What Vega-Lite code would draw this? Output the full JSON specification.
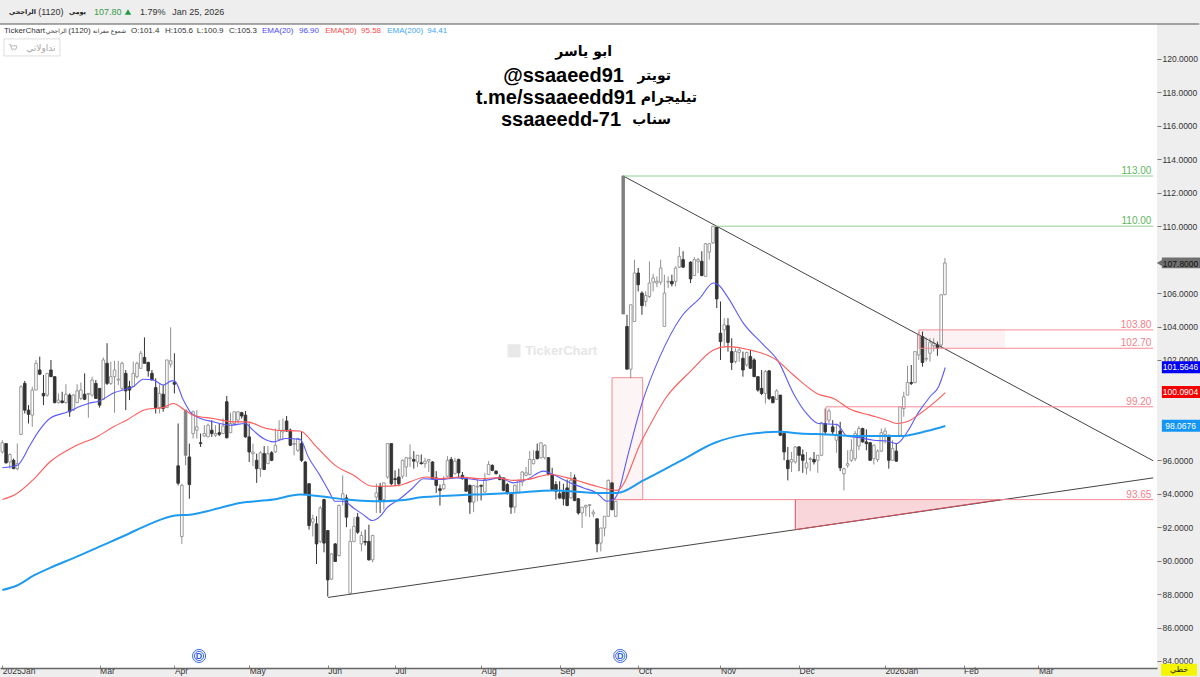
{"$schema":"https://vega.github.io/schema/vega-lite/v6.json","width":1157,"height":644,"autosize":{"type":"none"},"padding":{"left":0,"top":24,"right":43,"bottom":9},"background":"#eeeeee","view":{"fill":"#ffffff","stroke":null},
"config":{"font":"Liberation Sans"},
"datasets":{
"candles":[
{"s":0,"o":96.5,"h":97.2,"l":96.4,"c":97.05,"d":"u"},{"s":1,"o":97,"h":97,"l":95.8,"c":95.85,"d":"n"},{"s":2,"o":95.9,"h":96.4,"l":95.5,"c":96.35,"d":"u"},{"s":3,"o":96,"h":96.1,"l":95.5,"c":95.5,"d":"n"},{"s":4,"o":95.5,"h":97,"l":95.4,"c":95.8,"d":"u"},{"s":5,"o":97.55,"h":100.5,"l":97.5,"c":100.4,"d":"u"},{"s":6,"o":100.6,"h":100.75,"l":98.8,"c":99,"d":"n"},{"s":7,"o":99,"h":99.3,"l":98.2,"c":98.75,"d":"n"},{"s":8,"o":98.7,"h":100.4,"l":98,"c":100.2,"d":"u"},{"s":9,"o":100.2,"h":102,"l":100.2,"c":101.8,"d":"u"},
{"s":10,"o":101.4,"h":102.2,"l":101.1,"c":101.15,"d":"n"},{"s":11,"o":100,"h":101.1,"l":99.3,"c":99.85,"d":"n"},{"s":12,"o":99.9,"h":101.2,"l":99.8,"c":101.2,"d":"u"},{"s":13,"o":101.4,"h":102,"l":101,"c":101,"d":"n"},{"s":14,"o":101,"h":101,"l":99.4,"c":99.45,"d":"n"},{"s":15,"o":99.45,"h":100,"l":99.4,"c":99.6,"d":"u"},{"s":16,"o":99.55,"h":100.1,"l":99.4,"c":99.45,"d":"n"},{"s":17,"o":99.45,"h":100.55,"l":99.4,"c":99.95,"d":"u"},{"s":18,"o":99.9,"h":100,"l":98.6,"c":98.9,"d":"n"},{"s":19,"o":99,"h":99.95,"l":98.95,"c":99.9,"d":"u"},
{"s":20,"o":99.45,"h":100.55,"l":99.45,"c":100.15,"d":"u"},{"s":21,"o":99.7,"h":100.65,"l":99.6,"c":100.2,"d":"u"},{"s":22,"o":99.95,"h":101.2,"l":99.6,"c":99.65,"d":"n"},{"s":23,"o":99.95,"h":100,"l":98.55,"c":100,"d":"u"},{"s":24,"o":99.9,"h":101,"l":99.8,"c":100.8,"d":"u"},{"s":25,"o":100.6,"h":100.8,"l":99.7,"c":99.7,"d":"n"},{"s":26,"o":100.3,"h":100.3,"l":99.15,"c":99.3,"d":"n"},{"s":27,"o":99.65,"h":102.15,"l":99.6,"c":102,"d":"u"},{"s":28,"o":101.8,"h":103,"l":100.5,"c":100.6,"d":"n"},{"s":29,"o":100.6,"h":101.9,"l":100.5,"c":101,"d":"u"},
{"s":30,"o":101,"h":101.95,"l":98.85,"c":101.4,"d":"u"},{"s":31,"o":100.8,"h":101.95,"l":100.5,"c":100.85,"d":"u"},{"s":32,"o":100.3,"h":101.9,"l":100.2,"c":101.8,"d":"u"},{"s":33,"o":101.2,"h":101.4,"l":99,"c":100.15,"d":"n"},{"s":34,"o":100.4,"h":100.75,"l":99.6,"c":100.2,"d":"n"},{"s":35,"o":100.4,"h":101.9,"l":100.4,"c":101.2,"d":"u"},{"s":36,"o":101,"h":101.9,"l":100.9,"c":101.8,"d":"u"},{"s":37,"o":101.5,"h":102.55,"l":101.5,"c":102.4,"d":"u"},{"s":38,"o":102.15,"h":103.35,"l":101.8,"c":101.8,"d":"n"},{"s":39,"o":101.85,"h":101.9,"l":101,"c":101.35,"d":"n"},
{"s":40,"o":101.2,"h":101.4,"l":100.8,"c":100.8,"d":"n"},{"s":41,"o":100.35,"h":100.9,"l":98.8,"c":99.15,"d":"n"},{"s":42,"o":99.15,"h":100.55,"l":98.8,"c":100,"d":"u"},{"s":43,"o":99.95,"h":100.5,"l":98.9,"c":99.1,"d":"n"},{"s":44,"o":99.15,"h":102,"l":99.15,"c":102,"d":"u"},{"s":45,"o":101.75,"h":103.95,"l":101.55,"c":101.95,"d":"u"},{"s":46,"o":100.65,"h":102.4,"l":100,"c":100.55,"d":"n"},{"s":47,"o":95.67,"h":98.2,"l":94.5,"c":94.63,"d":"n"},{"s":48,"o":91.44,"h":94.6,"l":91,"c":94.5,"d":"u"},{"s":49,"o":96.3,"h":99,"l":95.7,"c":99,"d":"g"},
{"s":50,"o":96.2,"h":97,"l":93.7,"c":94.55,"d":"n"},{"s":51,"o":97.6,"h":98.98,"l":97.3,"c":98.9,"d":"u"},{"s":52,"o":97.8,"h":99,"l":97.3,"c":98,"d":"u"},{"s":53,"o":97.05,"h":97.6,"l":96.8,"c":97,"d":"n"},{"s":54,"o":97.45,"h":98.1,"l":97.4,"c":97.6,"d":"u"},{"s":55,"o":97.4,"h":98.2,"l":97.4,"c":98.1,"d":"u"},{"s":56,"o":97.8,"h":98.4,"l":97.4,"c":97.6,"d":"n"},{"s":57,"o":97.5,"h":98.1,"l":97.4,"c":97.6,"d":"u"},{"s":58,"o":97.65,"h":98.2,"l":97.45,"c":97.55,"d":"n"},{"s":59,"o":97.6,"h":98.5,"l":97.6,"c":98.05,"d":"u"},
{"s":60,"o":99.5,"h":99.85,"l":97.3,"c":97.35,"d":"n"},{"s":61,"o":97.65,"h":98.85,"l":97.65,"c":98.2,"d":"u"},{"s":62,"o":98.2,"h":98.9,"l":98.1,"c":98.9,"d":"u"},{"s":63,"o":98.4,"h":98.9,"l":98.2,"c":98.9,"d":"u"},{"s":64,"o":98.85,"h":98.9,"l":98.5,"c":98.65,"d":"n"},{"s":65,"o":98.7,"h":98.95,"l":97.35,"c":97.4,"d":"n"},{"s":66,"o":97.4,"h":98.2,"l":95.9,"c":96.5,"d":"n"},{"s":67,"o":96.4,"h":97,"l":95.65,"c":96.5,"d":"u"},{"s":68,"o":96,"h":96.4,"l":94.65,"c":95.5,"d":"n"},{"s":69,"o":95.5,"h":96.55,"l":95,"c":96.45,"d":"u"},
{"s":70,"o":96.4,"h":96.85,"l":95.45,"c":95.45,"d":"n"},{"s":71,"o":95.8,"h":96.85,"l":95.8,"c":96.4,"d":"u"},{"s":72,"o":96.45,"h":96.55,"l":95.95,"c":96,"d":"n"},{"s":73,"o":96.5,"h":97.9,"l":96.45,"c":96.9,"d":"u"},{"s":74,"o":97.25,"h":98.4,"l":97.2,"c":97.8,"d":"u"},{"s":75,"o":97.7,"h":98.5,"l":97.2,"c":97.8,"d":"u"},{"s":76,"o":98.35,"h":98.65,"l":97.7,"c":97.75,"d":"n"},{"s":77,"o":97.8,"h":97.9,"l":96.85,"c":96.9,"d":"n"},{"s":78,"o":96.95,"h":97.3,"l":96.3,"c":97,"d":"u"},{"s":79,"o":96.6,"h":97.35,"l":96.5,"c":97.3,"d":"u"},
{"s":80,"o":97,"h":97.7,"l":95.9,"c":96,"d":"n"},{"s":81,"o":95.9,"h":95.95,"l":93.95,"c":94,"d":"n"},{"s":82,"o":94.6,"h":94.6,"l":91.85,"c":92.1,"d":"n"},{"s":83,"o":92.3,"h":92.75,"l":91.45,"c":92.5,"d":"u"},{"s":84,"o":92.2,"h":92.65,"l":89.8,"c":91,"d":"n"},{"s":85,"o":91.15,"h":93.25,"l":91.05,"c":93.15,"d":"u"},{"s":86,"o":93.65,"h":93.7,"l":90.5,"c":91.05,"d":"n"},{"s":87,"o":91.8,"h":91.8,"l":87.85,"c":88.85,"d":"n"},{"s":88,"o":88.9,"h":90.45,"l":88.85,"c":90.4,"d":"u"},{"s":89,"o":91,"h":91.05,"l":89.95,"c":89.95,"d":"n"},
{"s":90,"o":90.3,"h":93.35,"l":90.25,"c":93.3,"d":"u"},{"s":91,"o":93.65,"h":95.1,"l":93.3,"c":94,"d":"u"},{"s":92,"o":93.75,"h":93.95,"l":92,"c":92.6,"d":"n"},{"s":93,"o":88.05,"h":91.9,"l":88,"c":91.15,"d":"u"},{"s":94,"o":91.15,"h":92.6,"l":91.1,"c":92.05,"d":"u"},{"s":95,"o":92.6,"h":92.85,"l":91.6,"c":91.7,"d":"n"},{"s":96,"o":91,"h":91.75,"l":90.55,"c":91.5,"d":"u"},{"s":97,"o":91.15,"h":91.85,"l":90.9,"c":91.1,"d":"n"},{"s":98,"o":91.15,"h":92.15,"l":90,"c":90.05,"d":"n"},{"s":99,"o":90.05,"h":91.55,"l":89.9,"c":91.5,"d":"u"},
{"s":100,"o":93.8,"h":94.6,"l":92.85,"c":94.05,"d":"u"},{"s":101,"o":94.45,"h":94.65,"l":92.85,"c":93.6,"d":"n"},{"s":102,"o":93.65,"h":94.65,"l":93.05,"c":94.65,"d":"u"},{"s":103,"o":95,"h":97,"l":94.9,"c":97,"d":"u"},{"s":104,"o":97,"h":97,"l":94.5,"c":94.6,"d":"n"},{"s":105,"o":94.9,"h":95.4,"l":94.45,"c":94.85,"d":"n"},{"s":106,"o":95,"h":95.5,"l":94.45,"c":94.6,"d":"n"},{"s":107,"o":95.05,"h":96.05,"l":94.9,"c":96,"d":"u"},{"s":108,"o":95.6,"h":96.2,"l":95,"c":96.15,"d":"u"},{"s":109,"o":96.1,"h":96.95,"l":95.6,"c":96.15,"d":"u"},
{"s":110,"o":96.05,"h":96.55,"l":95.5,"c":95.95,"d":"n"},{"s":111,"o":95.9,"h":96.3,"l":95.6,"c":96.3,"d":"u"},{"s":112,"o":95.85,"h":96.35,"l":95.75,"c":95.8,"d":"n"},{"s":113,"o":95.8,"h":96.15,"l":95.55,"c":95.95,"d":"u"},{"s":114,"o":95.95,"h":96.05,"l":95.3,"c":96.05,"d":"u"},{"s":115,"o":95.9,"h":95.95,"l":94.85,"c":94.9,"d":"n"},{"s":116,"o":94.95,"h":95.35,"l":94.05,"c":94.5,"d":"n"},{"s":117,"o":94.3,"h":94.55,"l":93.3,"c":94.2,"d":"n"},{"s":118,"o":94.3,"h":95.05,"l":94.25,"c":94.55,"d":"u"},{"s":119,"o":95.05,"h":96.25,"l":95,"c":96,"d":"u"},
{"s":120,"o":96.05,"h":96.2,"l":94.95,"c":94.95,"d":"n"},{"s":121,"o":95.2,"h":96.15,"l":95.15,"c":95.95,"d":"u"},{"s":122,"o":96.05,"h":96.1,"l":94.95,"c":95.25,"d":"n"},{"s":123,"o":95.1,"h":95.3,"l":94.85,"c":94.9,"d":"n"},{"s":124,"o":94.9,"h":94.95,"l":94.15,"c":94.15,"d":"n"},{"s":125,"o":94.5,"h":94.55,"l":92.8,"c":93.5,"d":"n"},{"s":126,"o":93.5,"h":94.5,"l":92.9,"c":94.5,"d":"u"},{"s":127,"o":94.4,"h":94.85,"l":93.55,"c":94.45,"d":"u"},{"s":128,"o":94.5,"h":94.55,"l":93.6,"c":94.45,"d":"n"},{"s":129,"o":94.1,"h":95.25,"l":94.05,"c":94.85,"d":"u"},
{"s":130,"o":95.15,"h":95.95,"l":95.15,"c":95.75,"d":"u"},{"s":131,"o":95.7,"h":95.75,"l":95.35,"c":95.4,"d":"n"},{"s":132,"o":95.35,"h":95.4,"l":95.15,"c":95.2,"d":"n"},{"s":133,"o":95,"h":95.15,"l":94.8,"c":94.85,"d":"n"},{"s":134,"o":94.95,"h":94.95,"l":94.15,"c":94.2,"d":"n"},{"s":135,"o":94.55,"h":94.65,"l":93.95,"c":94.05,"d":"n"},{"s":136,"o":94,"h":94,"l":92.8,"c":93.2,"d":"n"},{"s":137,"o":93.2,"h":94.55,"l":92.85,"c":94.5,"d":"u"},{"s":138,"o":94.05,"h":94.85,"l":94.05,"c":94.8,"d":"u"},{"s":139,"o":94.7,"h":95.35,"l":94.45,"c":95.3,"d":"u"},
{"s":140,"o":95.1,"h":95.6,"l":95.05,"c":95.25,"d":"u"},{"s":141,"o":95.15,"h":96.55,"l":95.1,"c":96.05,"d":"u"},{"s":142,"o":95.8,"h":96.6,"l":95.75,"c":96.05,"d":"u"},{"s":143,"o":96.55,"h":97,"l":96.05,"c":96.1,"d":"n"},{"s":144,"o":96.15,"h":97.05,"l":96.1,"c":97.05,"d":"u"},{"s":145,"o":96.15,"h":96.95,"l":96.05,"c":96.9,"d":"u"},{"s":146,"o":96.15,"h":96.2,"l":95.1,"c":95.15,"d":"n"},{"s":147,"o":95.15,"h":95.55,"l":94.2,"c":94.25,"d":"n"},{"s":148,"o":94.55,"h":94.75,"l":93.65,"c":94.15,"d":"n"},{"s":149,"o":94,"h":94.75,"l":93.7,"c":93.75,"d":"n"},
{"s":150,"o":94.1,"h":94.6,"l":93.3,"c":93.7,"d":"n"},{"s":151,"o":94.35,"h":94.85,"l":93.25,"c":93.3,"d":"n"},{"s":152,"o":93.75,"h":95.3,"l":93.7,"c":94.8,"d":"u"},{"s":153,"o":94.95,"h":95.15,"l":93.55,"c":93.6,"d":"n"},{"s":154,"o":93.7,"h":93.75,"l":92.75,"c":92.85,"d":"n"},{"s":155,"o":92.85,"h":93.2,"l":91.95,"c":93.2,"d":"u"},{"s":156,"o":93.2,"h":93.35,"l":92.65,"c":93.3,"d":"u"},{"s":157,"o":93.3,"h":93.35,"l":92.6,"c":93.35,"d":"u"},{"s":158,"o":92.8,"h":93.05,"l":92.6,"c":92.9,"d":"u"},{"s":159,"o":92.5,"h":92.5,"l":90.5,"c":91,"d":"n"},
{"s":160,"o":91.05,"h":91.95,"l":90.55,"c":91.95,"d":"u"},{"s":161,"o":91.95,"h":92.65,"l":91.45,"c":92.65,"d":"u"},{"s":162,"o":92.65,"h":94.85,"l":92.65,"c":94.8,"d":"u"},{"s":163,"o":94.65,"h":94.65,"l":93,"c":93.05,"d":"n"},{"s":164,"o":92.65,"h":93.55,"l":92.6,"c":93.55,"d":"u"},{"s":166,"o":104.75,"h":113,"l":104.75,"c":113,"d":"g"},{"s":167,"o":104,"h":104.7,"l":101.45,"c":101.45,"d":"n"},{"s":168,"o":101.45,"h":105.3,"l":100.9,"c":105.3,"d":"u"},{"s":169,"o":104.3,"h":108,"l":104.3,"c":107.2,"d":"u"},
{"s":170,"o":107.2,"h":107.5,"l":106.1,"c":106.5,"d":"n"},{"s":171,"o":106,"h":106.1,"l":104.7,"c":105.25,"d":"n"},{"s":172,"o":105.5,"h":106.1,"l":105.2,"c":105.85,"d":"u"},{"s":173,"o":105.8,"h":107.9,"l":105.7,"c":106.6,"d":"u"},{"s":174,"o":106.65,"h":107.15,"l":106.1,"c":106.9,"d":"u"},{"s":175,"o":106.6,"h":107,"l":106.35,"c":106.7,"d":"u"},{"s":176,"o":106.65,"h":108,"l":106.5,"c":107.5,"d":"u"},{"s":177,"o":104,"h":107.1,"l":104,"c":106,"d":"u"},{"s":178,"o":106.65,"h":107,"l":106.3,"c":106.7,"d":"u"},{"s":179,"o":106.7,"h":107.1,"l":106.4,"c":106.55,"d":"n"},
{"s":180,"o":106.7,"h":107.6,"l":106.4,"c":107.5,"d":"u"},{"s":181,"o":107.55,"h":108.75,"l":107.5,"c":108.2,"d":"u"},{"s":182,"o":108,"h":108.5,"l":107.5,"c":107.55,"d":"n"},{"s":184,"o":107.85,"h":107.9,"l":106.6,"c":106.85,"d":"n"},{"s":185,"o":107.05,"h":108.15,"l":107.05,"c":108,"d":"u"},{"s":186,"o":107.9,"h":108.1,"l":107.2,"c":108,"d":"u"},{"s":187,"o":107.9,"h":108.5,"l":107,"c":107.05,"d":"n"},{"s":188,"o":107,"h":109,"l":107,"c":108.95,"d":"u"},{"s":189,"o":108.45,"h":109,"l":108,"c":108.95,"d":"u"},
{"s":190,"o":109,"h":110,"l":108.95,"c":110,"d":"u"},{"s":191,"o":109.95,"h":110,"l":105.1,"c":105.65,"d":"n"},{"s":192,"o":103.6,"h":105.5,"l":102,"c":103.1,"d":"n"},{"s":193,"o":103.8,"h":104.5,"l":102.8,"c":104.1,"d":"u"},{"s":194,"o":104.05,"h":104.5,"l":102.5,"c":103.05,"d":"n"},{"s":195,"o":102.5,"h":103.3,"l":101.4,"c":101.85,"d":"n"},{"s":196,"o":101.9,"h":102.7,"l":101.8,"c":102.5,"d":"u"},{"s":197,"o":102.45,"h":102.7,"l":101.9,"c":102.6,"d":"u"},{"s":198,"o":102.1,"h":102.5,"l":101,"c":101.4,"d":"n"},{"s":199,"o":101.7,"h":102.5,"l":101.6,"c":102.45,"d":"u"},
{"s":200,"o":102.2,"h":102.6,"l":101.5,"c":101.5,"d":"n"},{"s":201,"o":102,"h":102.1,"l":101,"c":101,"d":"n"},{"s":202,"o":101,"h":101,"l":100.1,"c":100.2,"d":"n"},{"s":203,"o":100.3,"h":101.4,"l":99.9,"c":100,"d":"n"},{"s":204,"o":100,"h":101.4,"l":99.4,"c":101.3,"d":"u"},{"s":205,"o":101.35,"h":101.4,"l":99.6,"c":99.7,"d":"n"},{"s":206,"o":99.8,"h":99.85,"l":99.4,"c":99.45,"d":"n"},{"s":207,"o":99.65,"h":100.25,"l":99.6,"c":100.15,"d":"u"},{"s":208,"o":99.9,"h":99.9,"l":97.45,"c":97.5,"d":"n"},{"s":209,"o":97.6,"h":97.6,"l":96,"c":96.5,"d":"n"},
{"s":210,"o":96,"h":96.8,"l":94.8,"c":95.5,"d":"n"},{"s":211,"o":95.9,"h":96.5,"l":95.3,"c":96.05,"d":"u"},{"s":212,"o":95.9,"h":96.85,"l":95.8,"c":96.8,"d":"u"},{"s":213,"o":96.8,"h":96.85,"l":95.35,"c":96.3,"d":"n"},{"s":214,"o":96.33,"h":96.65,"l":95.25,"c":96,"d":"n"},{"s":215,"o":95.54,"h":96.5,"l":95.15,"c":95.84,"d":"u"},{"s":216,"o":96.05,"h":96.2,"l":95.35,"c":96.1,"d":"u"},{"s":217,"o":96.05,"h":96.5,"l":95.75,"c":95.9,"d":"n"},{"s":218,"o":96,"h":96.3,"l":95.25,"c":96.3,"d":"u"},{"s":219,"o":96.3,"h":98.3,"l":96.25,"c":98.25,"d":"u"},
{"s":220,"o":98.2,"h":99.1,"l":97.5,"c":97.7,"d":"n"},{"s":221,"o":98.4,"h":99.1,"l":98.2,"c":98.95,"d":"u"},{"s":222,"o":98,"h":98.4,"l":97.5,"c":97.7,"d":"n"},{"s":223,"o":97.2,"h":98.1,"l":96.45,"c":97.55,"d":"u"},{"s":224,"o":97.75,"h":98.3,"l":95.35,"c":95.55,"d":"n"},{"s":225,"o":95.2,"h":95.55,"l":94.2,"c":95.5,"d":"u"},{"s":226,"o":95.7,"h":96.6,"l":95.55,"c":95.8,"d":"u"},{"s":227,"o":96,"h":97.25,"l":95.9,"c":96.6,"d":"u"},{"s":228,"o":96.1,"h":97.75,"l":95.95,"c":97.6,"d":"u"},{"s":229,"o":96.85,"h":98.05,"l":96.6,"c":97.9,"d":"u"},
{"s":230,"o":97.9,"h":97.95,"l":97.05,"c":97.1,"d":"n"},{"s":231,"o":97.1,"h":97.85,"l":96.6,"c":97,"d":"n"},{"s":232,"o":97.05,"h":97.1,"l":96,"c":96,"d":"n"},{"s":233,"o":96.1,"h":96.95,"l":95.75,"c":96.9,"d":"u"},{"s":234,"o":96.05,"h":96.65,"l":95.9,"c":96.55,"d":"u"},{"s":235,"o":96.55,"h":97.9,"l":96.5,"c":97.65,"d":"u"},{"s":236,"o":97.55,"h":97.95,"l":97,"c":97.75,"d":"u"},{"s":237,"o":97.5,"h":97.5,"l":95.5,"c":96,"d":"n"},{"s":238,"o":96,"h":97.2,"l":96,"c":96.7,"d":"u"},{"s":239,"o":96.55,"h":97,"l":95.9,"c":95.95,"d":"n"},
{"s":240,"o":97.5,"h":99.2,"l":97.5,"c":99.2,"d":"u"},{"s":241,"o":99.1,"h":100.1,"l":98.6,"c":99.8,"d":"u"},{"s":242,"o":99.9,"h":101.65,"l":99.9,"c":100.65,"d":"u"},{"s":243,"o":100.65,"h":101.7,"l":100.5,"c":100.6,"d":"n"},{"s":244,"o":100.65,"h":102.5,"l":100.6,"c":102.5,"d":"u"},{"s":245,"o":102.3,"h":103.7,"l":102,"c":103.5,"d":"u"},{"s":246,"o":103.4,"h":103.7,"l":101.6,"c":101.85,"d":"n"},{"s":247,"o":102.05,"h":103.35,"l":101.9,"c":102.1,"d":"u"},{"s":248,"o":102.4,"h":103.3,"l":101.9,"c":103.05,"d":"u"},{"s":249,"o":102.85,"h":103.3,"l":102.5,"c":103,"d":"u"},
{"s":250,"o":102.9,"h":103.1,"l":102.25,"c":102.7,"d":"n"},{"s":251,"o":102.9,"h":105.9,"l":102.7,"c":105.9,"d":"u"},{"s":252,"o":105.9,"h":108.1,"l":105.9,"c":107.8,"d":"u"}
],
"ema":[
{"k":"EMA20","s":0,"p":95.55},{"k":"EMA20","s":4,"p":95.7},{"k":"EMA20","s":7.4,"p":96.9},{"k":"EMA20","s":9.6,"p":97.7},{"k":"EMA20","s":12.7,"p":98.5},{"k":"EMA20","s":17.6,"p":98.9},{"k":"EMA20","s":21,"p":99.25},{"k":"EMA20","s":23,"p":99.4},{"k":"EMA20","s":26,"p":99.55},{"k":"EMA20","s":30,"p":100.05},{"k":"EMA20","s":33,"p":100.25},{"k":"EMA20","s":35,"p":100.4},{"k":"EMA20","s":37.7,"p":100.85},{"k":"EMA20","s":40.4,"p":100.8},{"k":"EMA20","s":43,"p":100.5},{"k":"EMA20","s":45.3,"p":100.75},{"k":"EMA20","s":46,"p":100.75},{"k":"EMA20","s":48.4,"p":99.6},{"k":"EMA20","s":50.2,"p":98.9},{"k":"EMA20","s":52,"p":98.6},{"k":"EMA20","s":56.4,"p":98.3},{"k":"EMA20","s":60.9,"p":98.1},{"k":"EMA20","s":64.9,"p":98.2},{"k":"EMA20","s":67,"p":97.8},{"k":"EMA20","s":69.8,"p":97.3},{"k":"EMA20","s":72.5,"p":97.1},{"k":"EMA20","s":75.6,"p":97.3},{"k":"EMA20","s":79.6,"p":97.25},{"k":"EMA20","s":81.8,"p":96.2},{"k":"EMA20","s":84.9,"p":95.1},{"k":"EMA20","s":87.2,"p":94.2},{"k":"EMA20","s":89,"p":93.55},{"k":"EMA20","s":91.2,"p":93.55},{"k":"EMA20","s":93.9,"p":93.15},{"k":"EMA20","s":96.5,"p":92.75},{"k":"EMA20","s":98.9,"p":92.4},{"k":"EMA20","s":101,"p":92.65},{"k":"EMA20","s":102.8,"p":93.15},{"k":"EMA20","s":106.3,"p":93.7},{"k":"EMA20","s":109.5,"p":94.3},{"k":"EMA20","s":112.6,"p":94.9},{"k":"EMA20","s":117,"p":94.85},{"k":"EMA20","s":121.5,"p":94.95},{"k":"EMA20","s":124.6,"p":94.9},{"k":"EMA20","s":128.6,"p":94.8},{"k":"EMA20","s":133,"p":94.95},{"k":"EMA20","s":136.6,"p":94.65},{"k":"EMA20","s":140.2,"p":94.85},{"k":"EMA20","s":144.7,"p":95.35},{"k":"EMA20","s":147.3,"p":95.15},{"k":"EMA20","s":150.9,"p":94.75},{"k":"EMA20","s":155.4,"p":94.35},{"k":"EMA20","s":158.9,"p":94.05},{"k":"EMA20","s":161.6,"p":93.55},{"k":"EMA20","s":163.4,"p":93.65},{"k":"EMA20","s":164.7,"p":94.1},{"k":"EMA20","s":166.9,"p":96},{"k":"EMA20","s":171,"p":99.4},{"k":"EMA20","s":175.8,"p":102.2},{"k":"EMA20","s":181.6,"p":104.6},{"k":"EMA20","s":186.5,"p":105.7},{"k":"EMA20","s":190.1,"p":106.6},{"k":"EMA20","s":191.4,"p":106.5},{"k":"EMA20","s":194.1,"p":105.7},{"k":"EMA20","s":198.1,"p":104.2},{"k":"EMA20","s":203.5,"p":102.9},{"k":"EMA20","s":207.5,"p":101.9},{"k":"EMA20","s":211.5,"p":100},{"k":"EMA20","s":215,"p":98.8},{"k":"EMA20","s":218.2,"p":98.2},{"k":"EMA20","s":223.1,"p":98.15},{"k":"EMA20","s":225.8,"p":97.45},{"k":"EMA20","s":229.3,"p":97.35},{"k":"EMA20","s":232.9,"p":97.2},{"k":"EMA20","s":236.5,"p":97.15},{"k":"EMA20","s":239.1,"p":97},{"k":"EMA20","s":241.8,"p":97.65},{"k":"EMA20","s":244.9,"p":98.85},{"k":"EMA20","s":248,"p":99.8},{"k":"EMA20","s":250.3,"p":100.4},{"k":"EMA20","s":252.1,"p":101.55},
{"k":"EMA50","s":0,"p":93.65},{"k":"EMA50","s":3.8,"p":94},{"k":"EMA50","s":8.3,"p":94.85},{"k":"EMA50","s":12.7,"p":95.9},{"k":"EMA50","s":19,"p":96.8},{"k":"EMA50","s":25.2,"p":97.4},{"k":"EMA50","s":29.7,"p":98},{"k":"EMA50","s":33.2,"p":98.4},{"k":"EMA50","s":38.6,"p":99.05},{"k":"EMA50","s":43,"p":99.15},{"k":"EMA50","s":45.7,"p":99.4},{"k":"EMA50","s":48.8,"p":99},{"k":"EMA50","s":51,"p":98.7},{"k":"EMA50","s":56.4,"p":98.5},{"k":"EMA50","s":61.8,"p":98.3},{"k":"EMA50","s":65.3,"p":98.3},{"k":"EMA50","s":70.7,"p":97.9},{"k":"EMA50","s":73.4,"p":97.8},{"k":"EMA50","s":79.6,"p":97.75},{"k":"EMA50","s":84,"p":96.8},{"k":"EMA50","s":89,"p":95.7},{"k":"EMA50","s":93.9,"p":95.1},{"k":"EMA50","s":98.9,"p":94.45},{"k":"EMA50","s":101.9,"p":94.45},{"k":"EMA50","s":105.9,"p":94.5},{"k":"EMA50","s":113.5,"p":95},{"k":"EMA50","s":117,"p":94.9},{"k":"EMA50","s":122.4,"p":95},{"k":"EMA50","s":127.7,"p":94.9},{"k":"EMA50","s":132.2,"p":94.95},{"k":"EMA50","s":136.6,"p":94.8},{"k":"EMA50","s":140.2,"p":94.85},{"k":"EMA50","s":146.5,"p":95.15},{"k":"EMA50","s":152.7,"p":94.85},{"k":"EMA50","s":158,"p":94.5},{"k":"EMA50","s":162.5,"p":94.25},{"k":"EMA50","s":164.3,"p":94.2},{"k":"EMA50","s":171,"p":97.2},{"k":"EMA50","s":177.6,"p":99.8},{"k":"EMA50","s":183.9,"p":101.3},{"k":"EMA50","s":190.1,"p":102.6},{"k":"EMA50","s":193.7,"p":102.8},{"k":"EMA50","s":199.9,"p":102.6},{"k":"EMA50","s":207,"p":102},{"k":"EMA50","s":211.5,"p":101.1},{"k":"EMA50","s":218.2,"p":99.95},{"k":"EMA50","s":222.2,"p":99.7},{"k":"EMA50","s":226.7,"p":99.05},{"k":"EMA50","s":232,"p":98.7},{"k":"EMA50","s":236.5,"p":98.4},{"k":"EMA50","s":239.1,"p":98.2},{"k":"EMA50","s":241.8,"p":98.3},{"k":"EMA50","s":245.4,"p":98.8},{"k":"EMA50","s":248.9,"p":99.4},{"k":"EMA50","s":252.1,"p":100.05},
{"k":"EMA200","s":0,"p":88.25},{"k":"EMA200","s":3.8,"p":88.5},{"k":"EMA200","s":8.3,"p":89.1},{"k":"EMA200","s":13.6,"p":89.65},{"k":"EMA200","s":19,"p":90.15},{"k":"EMA200","s":26.1,"p":90.85},{"k":"EMA200","s":33.2,"p":91.55},{"k":"EMA200","s":39.5,"p":92.2},{"k":"EMA200","s":46.2,"p":92.7},{"k":"EMA200","s":50.2,"p":92.75},{"k":"EMA200","s":56.4,"p":93.05},{"k":"EMA200","s":63.5,"p":93.45},{"k":"EMA200","s":72.5,"p":93.65},{"k":"EMA200","s":79.6,"p":93.95},{"k":"EMA200","s":84.9,"p":93.85},{"k":"EMA200","s":92,"p":93.65},{"k":"EMA200","s":99.2,"p":93.55},{"k":"EMA200","s":105.9,"p":93.6},{"k":"EMA200","s":112.6,"p":93.8},{"k":"EMA200","s":126,"p":93.95},{"k":"EMA200","s":136.6,"p":94.05},{"k":"EMA200","s":147.3,"p":94.2},{"k":"EMA200","s":159.8,"p":94.05},{"k":"EMA200","s":164.3,"p":94.05},{"k":"EMA200","s":171.4,"p":94.8},{"k":"EMA200","s":181.2,"p":95.95},{"k":"EMA200","s":190.5,"p":97.05},{"k":"EMA200","s":199,"p":97.55},{"k":"EMA200","s":207.9,"p":97.7},{"k":"EMA200","s":213.3,"p":97.6},{"k":"EMA200","s":220.4,"p":97.55},{"k":"EMA200","s":229.3,"p":97.45},{"k":"EMA200","s":240,"p":97.45},{"k":"EMA200","s":247.2,"p":97.75},{"k":"EMA200","s":252.1,"p":98.05}
],
"segs":[
{"id":"fall","k":"dark","s":166,"p":113},{"id":"fall","k":"dark","s":307.7,"p":95.97},
{"id":"rise","k":"dark","s":87.1,"p":87.8},{"id":"rise","k":"dark","s":307.7,"p":94.95},
{"id":"g113","k":"green","s":166,"p":113},{"id":"g113","k":"green","s":307.7,"p":113},
{"id":"g110","k":"green","s":190.5,"p":110},{"id":"g110","k":"green","s":307.7,"p":110},
{"id":"r1038a","k":"red","s":245.1,"p":102.7},{"id":"r1038a","k":"red","s":245.1,"p":103.8},
{"id":"r1038","k":"red","s":245.1,"p":103.8},{"id":"r1038","k":"red","s":307.7,"p":103.8},
{"id":"r1027","k":"red","s":245.1,"p":102.7},{"id":"r1027","k":"red","s":307.7,"p":102.7},
{"id":"r992a","k":"red","s":220.2,"p":98.3},{"id":"r992a","k":"red","s":220.2,"p":99.2},
{"id":"r992","k":"red","s":220.2,"p":99.2},{"id":"r992","k":"red","s":307.7,"p":99.2},
{"id":"r9365","k":"red","s":163,"p":93.65},{"id":"r9365","k":"red","s":307.7,"p":93.65},
{"id":"tria","k":"deep","s":212,"p":93.65},{"id":"tria","k":"deep","s":212,"p":91.85},
{"id":"tri","k":"deep","s":212,"p":91.85},{"id":"tri","k":"deep","s":266.8,"p":93.65}
],
"levels":[{"s":307.2,"p":113,"t":"113.00","k":"green"},{"s":307.2,"p":110,"t":"110.00","k":"green"},{"s":307.2,"p":103.8,"t":"103.80","k":"red"},{"s":307.2,"p":102.7,"t":"102.70","k":"red"},{"s":307.2,"p":99.2,"t":"99.20","k":"red"},{"s":307.2,"p":93.65,"t":"93.65","k":"red"}],
"tags":[{"s":310,"s2":321,"p":108.12,"p2":107.48,"t":"107.8000","k":"last"},{"s":310,"s2":321,"p":101.92,"p2":101.2,"t":"101.5646","k":"EMA20"},{"s":310,"s2":321,"p":100.45,"p2":99.73,"t":"100.0904","k":"EMA50"},{"s":310,"s2":321,"p":98.43,"p2":97.7,"t":"98.0676","k":"EMA200"}],
"hdr1":[{"s":9.6,"p":122.81,"t":"(1120)","k":"text"},{"s":24.5,"p":122.81,"t":"107.80","k":"up"},{"s":36.8,"p":122.81,"t":"1.79%","k":"text"},{"s":45.4,"p":122.81,"t":"Jan 25, 2026","k":"text"}],
"hdr1ar":[{"s":1.8,"p":122.81,"t":"الراجحي"},{"s":17.8,"p":122.81,"t":"يومي"}],
"hdr2":[{"s":0.45,"p":121.67,"t":"TickerChart","k":"text"},{"s":17.6,"p":121.67,"t":"(1120)","k":"text"},{"s":34.4,"p":121.67,"t":"O:101.4","k":"text"},{"s":43.5,"p":121.67,"t":"H:105.6","k":"text"},{"s":52,"p":121.67,"t":"L:100.9","k":"text"},{"s":60.6,"p":121.67,"t":"C:105.3","k":"text"},{"s":69.4,"p":121.67,"t":"EMA(20)","k":"EMA20"},{"s":79.3,"p":121.67,"t":"96.90","k":"EMA20"},{"s":86.3,"p":121.67,"t":"EMA(50)","k":"EMA50"},{"s":95.9,"p":121.67,"t":"95.58","k":"EMA50"},{"s":102.9,"p":121.67,"t":"EMA(200)","k":"EMA200"},{"s":113.6,"p":121.67,"t":"94.41","k":"EMA200"}],
"hdr2ar":[{"s":11.6,"p":121.67,"t":"الراجحي"},{"s":24.2,"p":121.67,"t":"شموع مقرانة"}],
"titleLat":[{"s":133.9,"p":118.98,"t":"@ssaaeed91"},{"s":126.6,"p":117.67,"t":"t.me/ssaaeedd91"},{"s":133.3,"p":116.35,"t":"ssaaeedd-71"}],
"titleAr":[{"s":163,"p":120.42,"t":"ابو ياسر"},{"s":178.8,"p":118.98,"t":"تويتر"},{"s":185.7,"p":117.67,"t":"تيليجرام"},{"s":178.8,"p":116.35,"t":"سناب"}]
},
"encoding":{},
"layer":[
{"data":{"values":[{"s":163,"s2":171.2,"p":100.94,"p2":93.65}]},"mark":{"type":"rect","fill":"#fdf4f5","stroke":"#f58a92","strokeWidth":1},"encoding":{"x":{"field":"s","type":"quantitative","scale":{"domain":[-0.623,308.7],"nice":false,"zero":false,"padding":0},"axis":{"values":[0,26,46,66,87,105,128,149,170,192,213,236,257,277],"labelExpr":"{'0':'2025Jan','26':'Mar','46':'Apr','66':'May','87':'Jun','105':'Jul','128':'Aug','149':'Sep','170':'Oct','192':'Nov','213':'Dec','236':'2026Jan','257':'Feb','277':'Mar'}[''+datum.value]","title":null,"grid":false,"labelAlign":"left","labelBaseline":"middle","labelFontSize":8.5,"labelColor":"#333333","labelPadding":5,"labelOverlap":false,"labelFlush":false,"labelBound":false,"domainColor":"#666666","domainWidth":1.5,"tickColor":"#888888","tickSize":-3}},"x2":{"field":"s2"},"y":{"field":"p","type":"quantitative","scale":{"domain":[83.58,122.09],"nice":false,"zero":false,"padding":0},"axis":{"orient":"right","values":[84,86,88,90,92,94,96,102,104,106,110,112,114,116,118,120],"format":".4f","title":null,"grid":false,"domain":false,"tickSize":4,"tickColor":"#777777","labelFontSize":8.5,"labelColor":"#333333","labelPadding":1,"labelOverlap":false,"labelFlush":false,"labelBound":false}},"y2":{"field":"p2"}}},
{"data":{"values":[{"s":245.1,"s2":268.1,"p":103.8,"p2":102.7}]},"mark":{"type":"rect","fill":"#fdf2f3"},"encoding":{"x":{"field":"s","type":"quantitative"},"x2":{"field":"s2"},"y":{"field":"p","type":"quantitative"},"y2":{"field":"p2"}}},
{"data":{"values":[{"s":212,"p":93.65,"p2":91.85},{"s":266.8,"p":93.65,"p2":93.65}]},"mark":{"type":"area","fill":"#f8d6da"},"encoding":{"x":{"field":"s","type":"quantitative"},"y":{"field":"p","type":"quantitative"},"y2":{"field":"p2"}}},
{"data":{"values":[{"s":149.4,"p":102.55,"t":"TickerChart"}]},"mark":{"type":"text","font":"Liberation Sans","fontWeight":"bold","fontSize":13,"fill":"#e6e6e6"},"encoding":{"x":{"field":"s","type":"quantitative"},"y":{"field":"p","type":"quantitative"},"text":{"field":"t"}}},
{"data":{"values":[{"s":136.8,"p":102.55}]},"mark":{"type":"point","shape":"square","filled":true,"size":170,"color":"#e8e8e8","opacity":1},"encoding":{"x":{"field":"s","type":"quantitative"},"y":{"field":"p","type":"quantitative"}}},
{"data":{"name":"candles"},"mark":{"type":"rule","strokeWidth":1},"encoding":{"x":{"field":"s","type":"quantitative"},"y":{"field":"l","type":"quantitative"},"y2":{"field":"h"},"color":{"field":"d","type":"nominal","scale":{"domain":["u","n","g"],"range":["#909090","#333333","#808080"]},"legend":null}}},
{"data":{"name":"candles"},"mark":{"type":"bar","size":2.6,"strokeWidth":0.9},"encoding":{"x":{"field":"s","type":"quantitative"},"y":{"field":"o","type":"quantitative"},"y2":{"field":"c"},"fill":{"field":"d","type":"nominal","scale":{"domain":["u","n","g"],"range":["#ffffff","#333333","#808080"]},"legend":null},"stroke":{"field":"d","type":"nominal","scale":{"domain":["u","n","g"],"range":["#909090","#333333","#808080"]},"legend":null}}},
{"data":{"name":"segs"},"mark":{"type":"line","strokeWidth":1},"encoding":{"x":{"field":"s","type":"quantitative"},"y":{"field":"p","type":"quantitative"},"detail":{"field":"id"},"color":{"field":"k","type":"nominal","scale":{"domain":["dark","green","red","deep"],"range":["#444444","#92cf92","#f98b96","#d25060"]},"legend":null}}},
{"data":{"name":"ema"},"transform":[{"filter":"datum.k!='EMA200'"}],"mark":{"type":"line","strokeWidth":1.1,"interpolate":"monotone"},"encoding":{"x":{"field":"s","type":"quantitative"},"y":{"field":"p","type":"quantitative"},"color":{"field":"k","type":"nominal","scale":{"domain":["EMA20","EMA50"],"range":["#5a5aff","#ff5a5a"]},"legend":null}}},
{"data":{"name":"ema"},"transform":[{"filter":"datum.k=='EMA200'"}],"mark":{"type":"line","strokeWidth":2,"color":"#1e9bf0","interpolate":"monotone"},"encoding":{"x":{"field":"s","type":"quantitative"},"y":{"field":"p","type":"quantitative"}}},
{"data":{"name":"levels"},"mark":{"type":"text","align":"right","baseline":"bottom","dy":0,"fontSize":10,"font":"Liberation Sans"},"encoding":{"x":{"field":"s","type":"quantitative"},"y":{"field":"p","type":"quantitative"},"text":{"field":"t"},"color":{"field":"k","type":"nominal","scale":{"domain":["green","red"],"range":["#62b562","#f2808c"]},"legend":null}}},
{"data":{"name":"titleLat"},"mark":{"type":"text","align":"left","font":"Liberation Sans","fontWeight":"bold","fontSize":20,"fill":"#000000"},"encoding":{"x":{"field":"s","type":"quantitative"},"y":{"field":"p","type":"quantitative"},"text":{"field":"t"}}},
{"data":{"name":"titleAr"},"mark":{"type":"text","align":"right","font":"DejaVu Sans","fontWeight":"bold","fontSize":14,"fill":"#000000"},"encoding":{"x":{"field":"s","type":"quantitative"},"y":{"field":"p","type":"quantitative"},"text":{"field":"t"}}},
{"data":{"values":[{"s":52.6,"p":84.3},{"s":165.2,"p":84.3}]},"mark":{"type":"point","shape":"circle","size":170,"fill":"#ffffff","stroke":"#3a68e0","strokeWidth":1,"filled":false,"opacity":1},"encoding":{"x":{"field":"s","type":"quantitative"},"y":{"field":"p","type":"quantitative"}}},
{"data":{"values":[{"s":52.6,"p":84.3},{"s":165.2,"p":84.3}]},"mark":{"type":"point","shape":"circle","size":85,"fill":"#ffffff","stroke":"#3a68e0","strokeWidth":1,"filled":false,"opacity":1},"encoding":{"x":{"field":"s","type":"quantitative"},"y":{"field":"p","type":"quantitative"}}},
{"data":{"values":[{"s":52.6,"p":84.3,"t":"D"},{"s":165.2,"p":84.3,"t":"D"}]},"mark":{"type":"text","fontWeight":"bold","fontSize":9,"fill":"#2f5fd8","font":"Liberation Sans"},"encoding":{"x":{"field":"s","type":"quantitative"},"y":{"field":"p","type":"quantitative"},"text":{"field":"t"}}},
{"data":{"name":"tags"},"mark":{"type":"rect"},"encoding":{"x":{"field":"s","type":"quantitative"},"x2":{"field":"s2"},"y":{"field":"p","type":"quantitative"},"y2":{"field":"p2"},"color":{"field":"k","type":"nominal","scale":{"domain":["last","EMA20","EMA50","EMA200"],"range":["#707070","#0000f5","#f50000","#1496f5"]},"legend":null}}},
{"data":{"values":[{"s":309.6,"p":107.8}]},"mark":{"type":"point","shape":"triangle-left","filled":true,"size":70,"color":"#707070","opacity":1},"encoding":{"x":{"field":"s","type":"quantitative"},"y":{"field":"p","type":"quantitative"}}},
{"data":{"name":"tags"},"mark":{"type":"text","fontSize":8.5,"font":"Liberation Sans"},"encoding":{"x":{"datum":315,"type":"quantitative"},"y":{"field":"p","type":"quantitative"},"yOffset":{"value":6},"text":{"field":"t"},"color":{"field":"k","type":"nominal","scale":{"domain":["last","EMA20","EMA50","EMA200"],"range":["#111111","#ffffff","#ffffff","#ffffff"]},"legend":null}}},
{"data":{"values":[{"s":309.8,"s2":319.4,"p":83.84,"p2":83.12}]},"mark":{"type":"rect","fill":"#f5f500"},"encoding":{"x":{"field":"s","type":"quantitative"},"x2":{"field":"s2"},"y":{"field":"p","type":"quantitative"},"y2":{"field":"p2"}}},
{"data":{"values":[{"s":314.6,"p":83.48,"t":"خطي"}]},"mark":{"type":"text","fontSize":8,"fill":"#222222","font":"DejaVu Sans"},"encoding":{"x":{"field":"s","type":"quantitative"},"y":{"field":"p","type":"quantitative"},"text":{"field":"t"}}},
{"data":{"values":[{"s":-0.623,"p":122.09},{"s":320,"p":122.09}]},"mark":{"type":"line","stroke":"#555555","strokeWidth":1},"encoding":{"x":{"field":"s","type":"quantitative"},"y":{"field":"p","type":"quantitative"}}},
{"data":{"name":"hdr1"},"mark":{"type":"text","align":"left","fontSize":9,"font":"Liberation Sans"},"encoding":{"x":{"field":"s","type":"quantitative"},"y":{"field":"p","type":"quantitative"},"text":{"field":"t"},"color":{"field":"k","type":"nominal","scale":{"domain":["text","up"],"range":["#333333","#3a9a4a"]},"legend":null}}},
{"data":{"name":"hdr1ar"},"mark":{"type":"text","align":"left","fontSize":6.5,"fontWeight":"bold","font":"DejaVu Sans","fill":"#222222"},"encoding":{"x":{"field":"s","type":"quantitative"},"y":{"field":"p","type":"quantitative"},"text":{"field":"t"}}},
{"data":{"values":[{"s":33.6,"p":122.81}]},"mark":{"type":"point","shape":"triangle-up","filled":true,"size":40,"color":"#1f9a3c","opacity":1},"encoding":{"x":{"field":"s","type":"quantitative"},"y":{"field":"p","type":"quantitative"}}},
{"data":{"name":"hdr2"},"mark":{"type":"text","align":"left","fontSize":8,"font":"Liberation Sans"},"encoding":{"x":{"field":"s","type":"quantitative"},"y":{"field":"p","type":"quantitative"},"text":{"field":"t"},"color":{"field":"k","type":"nominal","scale":{"domain":["text","EMA20","EMA50","EMA200"],"range":["#333333","#4a4aff","#ff4a4a","#40a8f5"]},"legend":null}}},
{"data":{"name":"hdr2ar"},"mark":{"type":"text","align":"left","fontSize":6,"font":"DejaVu Sans","fill":"#333333"},"encoding":{"x":{"field":"s","type":"quantitative"},"y":{"field":"p","type":"quantitative"},"text":{"field":"t"}}},
{"data":{"values":[{"s":0.45,"s2":15.4,"p":121.2,"p2":120.18}]},"mark":{"type":"rect","fill":"#ffffff","stroke":"#dddddd","strokeWidth":1},"encoding":{"x":{"field":"s","type":"quantitative"},"x2":{"field":"s2"},"y":{"field":"p","type":"quantitative"},"y2":{"field":"p2"}}},
{"data":{"values":[{"s":10.3,"p":120.68,"t":"تداولاتي"}]},"mark":{"type":"text","fontSize":9,"fill":"#a8a8a8","font":"DejaVu Sans"},"encoding":{"x":{"field":"s","type":"quantitative"},"y":{"field":"p","type":"quantitative"},"text":{"field":"t"}}},
{"data":{"values":[{"s":2.85,"p":120.68}]},"mark":{"type":"point","shape":"M-1,-0.8L-0.65,-0.8L-0.35,0.4L0.8,0.4L1,-0.45L-0.55,-0.45M-0.2,0.8L-0.1,0.8M0.5,0.8L0.6,0.8","size":60,"filled":false,"stroke":"#bbbbbb","strokeWidth":1,"opacity":1},"encoding":{"x":{"field":"s","type":"quantitative"},"y":{"field":"p","type":"quantitative"}}}
],
"resolve":{"scale":{"color":"independent","fill":"independent","stroke":"independent"}}
}
